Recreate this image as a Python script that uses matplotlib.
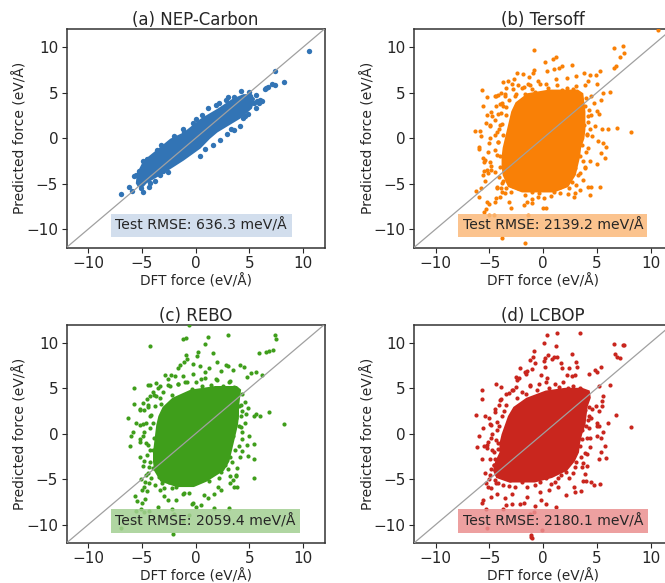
#!/usr/bin/env python3

import matplotlib
matplotlib.use('Agg')
import matplotlib.pyplot as plt

titles = ['(a) NEP-Carbon', '(b) Tersoff', '(c) REBO', '(d) LCBOP']
rmse_labels = ['Test RMSE: 636.3 meV/Å', 'Test RMSE: 2139.2 meV/Å',
               'Test RMSE: 2059.4 meV/Å', 'Test RMSE: 2180.1 meV/Å']
ticks = [-10, -5, 0, 5, 10]

# the middle of each cloud is solid colour and single points cant be read there,
# so it is stored as an outline (y, left x, right x)
core_y_a = [-5.3, -4.9, -3.8, -2.4, -1.07, 0, 0.7, 2.2, 3.3, 4.4, 4.9]
core_l_a = [-5.4, -5.6, -5.5, -4.9, -3.5, -2.4, -1.15, 0.42, 2.0, 3.4, 4.4]
core_r_a = [-4.9, -4.6, -3.0, -1.15, 0.42, 1.3, 2.0, 4.1, 5.2, 5.5, 5.1]

core_y_b = [-5.9, -5.3, -4, -3, -2, -1, 0, 1, 2, 3, 4, 5, 5.4]
core_l_b = [-2.0, -3.3, -3.8, -3.9, -3.9, -3.8, -3.6, -3.4, -3.2, -3.0, -2.6, -1.5, 0.5]
core_r_b = [1.0, 2.3, 3.0, 3.2, 3.4, 3.5, 3.8, 3.9, 3.9, 3.9, 3.8, 3.7, 3.2]

core_y_c = [-5.8, -5.2, -4, -3, -2, -1, 0, 1, 2, 3, 4, 4.9, 5.3]
core_l_c = [-1.8, -3.3, -3.9, -4.0, -4.0, -3.9, -3.8, -3.7, -3.5, -3.1, -2.2, -0.5, 1.8]
core_r_c = [-0.2, 1.0, 2.6, 3.1, 3.3, 3.5, 3.7, 3.9, 4.0, 4.0, 4.1, 4.2, 3.8]

core_y_d = [-5.3, -4.8, -4, -3, -2, -1, 0, 1, 2, 3, 4, 4.8, 5.1]
core_l_d = [-3.2, -4.4, -4.7, -4.5, -4.1, -4.1, -3.9, -3.6, -3.3, -2.8, -1.6, 0.2, 2.0]
core_r_d = [-0.8, 0.8, 2.2, 2.9, 3.3, 3.4, 3.6, 3.9, 4.0, 4.1, 4.4, 4.3, 3.6]

# single points outside the solid part
pts_a = [(10.6,9.6),(7.4,7.4),(8.2,6.2),(7.4,5.9),(7.1,6.0),(6.7,5.6),(6.6,5.5),(6.5,5.4),(6.0,4.2),
         (5.6,4.7),(5.6,3.3),(4.9,2.7),(5.4,3.9),(5.7,4.1),(4.2,5.2),(5.0,5.1),(4.6,2.4),(4.4,2.2),
         (3.0,4.5),(3.6,4.5),(2.8,4.2),(2.2,3.9),(1.9,3.6),(1.2,3.3),(0.6,2.5),(0.0,2.1),(-0.2,1.7),
         (-1.2,1.0),(-1.1,0.7),(-2.0,0.3),(-3.2,-0.7),(-3.6,-1.3),(-4.5,-2.3),
         (-4.9,-2.5),(-5.5,-4.0),(-5.2,-3.9),(-5.3,-3.6),(-5.7,-4.1),(-6.2,-5.4),(-6.9,-6.1),(-5.9,-5.8),
         (-4.9,-5.9),(-4.3,-5.4),(-3.8,-4.7),(-3.3,-4.0),(-2.6,-3.7),(0.4,-2.0),
         (0.9,-1.2),(1.6,-0.7),(2.3,-0.2),(2.9,0.5),(3.6,0.9),(4.1,1.4),(3.3,1.0),(5.9,3.9),
         (6.2,4.1),(5.1,4.6),(4.9,3.6),(-3.0,-3.6),(-4.2,-4.9),(-5.1,-5.5),(-4.6,-3.2),(-4.0,-2.2)]

pts_b = [(-0.8,9.7),(0.9,8.7),(1.2,8.9),(0.2,8.4),(6.6,9.9),(7.4,10.1),(7.5,9.4),(7.2,8.9),(6.8,7.9),(6.6,7.7),
         (2.7,8.0),(1.8,7.9),(1.5,7.7),(1.0,7.6),(0.4,7.4),(-0.8,7.5),(-0.9,7.2),(-1.3,6.7),(-2.4,7.2),(-1.9,7.1),
         (-3.7,6.2),(-3.3,6.3),(-2.7,6.5),(-5.7,5.3),(-5.2,4.5),(-4.4,4.6),(-3.9,5.0),(-3.4,5.5),(-2.8,5.4),(-2.3,5.8),
         (-1.8,5.6),(-1.2,5.9),(-0.5,6.3),(0.3,6.0),(1.2,6.5),(2.2,6.6),(3.1,6.8),(3.8,7.2),(4.4,7.0),(5.3,7.4),
         (4.9,7.0),(4.2,6.3),(3.9,5.8),(5.0,6.0),(5.6,5.0),(6.2,5.1),(5.4,4.2),(4.5,4.6),(4.7,3.9),(5.0,3.0),
         (4.5,2.5),(4.2,1.8),(5.2,2.7),(4.8,1.4),(5.5,1.0),(6.0,1.0),(6.9,1.1),(8.2,0.7),(4.1,0.5),(4.6,0.2),
         (5.1,-0.3),(5.6,-0.5),(5.9,-1.0),(5.4,-1.6),(5.8,-2.2),(5.0,-2.8),(4.4,-2.5),(4.0,-1.5),(3.9,-3.2),(3.4,-3.8),
         (3.7,-4.6),(4.2,-5.3),(4.5,-5.4),(3.4,-5.7),(3.0,-6.0),(2.9,-6.4),(4.4,-6.2),(5.3,-5.4),(2.3,-6.1),(1.6,-6.0),
         (0.7,-6.3),(0.1,-6.6),(-0.5,-6.5),(-1.0,-6.7),(-1.5,-7.0),(-1.8,-7.3),(-1.0,-7.1),(0.0,-7.7),(0.3,-7.7),(-3.0,-7.7),
         (-3.2,-7.0),(-4.0,-6.5),(-4.5,-7.0),(-5.0,-7.2),(-5.2,-7.0),(-5.3,-7.8),(-5.5,-8.1),(-5.0,-8.4),(-4.6,-8.4),(-1.4,-8.4),
         (-3.8,-11.0),(-1.7,-11.5),(-6.2,-5.8),(-6.0,-6.5),(-5.8,-5.5),(-5.4,-4.7),(-5.6,-4.0),(-5.5,-3.6),(-5.1,-3.8),(-4.8,-3.5),
         (-4.9,-2.6),(-5.5,-2.6),(-5.6,-2.2),(-6.0,-1.2),(-6.0,-1.0),(-5.0,-0.5),(-6.3,0.8),(-5.9,0.8),(-5.8,0.3),(-5.3,1.7),
         (-4.9,1.4),(-5.2,2.6),(-4.7,2.4),(-5.6,3.5),(-4.4,3.5),(-4.8,2.9),(-3.8,3.9),(-3.5,4.6),(-4.2,4.7),(-4.5,0.4),
         (-4.3,-1.8),(-4.0,1.5),(-4.2,-0.4),(-3.9,2.8),(-3.7,-4.7),(-3.9,-5.5),(-4.3,-5.5),(-3.5,-6.0),(-4.4,-6.6),(10.7,11.9)]

fringe_b = [(-2.0,5.5),(-1.4,6.0),(-0.3,6.0),(0.5,5.5),(1.3,5.9),(2.2,5.5),(3.1,5.7),(-2.5,4.9),(-1.7,4.9),(-0.7,5.1),
            (-2.9,6.0),(-3.5,4.9),(-4.0,3.8),(-4.5,4.6),(-3.2,4.2),(-3.7,3.5),(-4.2,2.7),(-3.4,2.6),(-4.5,2.0),(-3.8,1.6),
            (-4.9,1.5),(-4.3,0.7),(-3.7,0.4),(-4.9,0.0),(-4.2,-0.4),(-5.1,-1.5),(-4.5,-1.3),(-4.0,-2.0),(-5.4,-2.4),(-4.8,-3.1),
            (-4.5,-3.7),(-5.2,-3.5),(-4.3,-5.3),(-3.8,-5.9),(-3.4,-5.5),(-3.0,-5.9),(-2.3,-5.5),(-1.7,-6.2),(-1.0,-5.9),(-0.4,-6.0),
            (0.2,-5.5),(1.0,-5.9),(1.6,-5.3),(2.4,-5.5),(2.7,-4.8),(3.1,-5.1),(3.3,-4.0),(3.0,-3.3),(3.9,-3.3),(3.4,-2.0),
            (4.2,-1.1),(3.6,-0.7),(4.1,0.4),(3.8,1.5),(4.2,2.4),(3.9,3.5),(-4.0,-3.2),(-4.1,-4.3),(-3.8,-4.9),(-2.8,-5.2),
            (-4.1,1.0),(-3.4,3.4),(-2.6,4.6),(-1.0,5.4),(1.8,5.3),(2.8,5.4),(4.0,4.4),(4.3,3.1),(4.4,1.0),(3.7,-2.5)]

pts_c = [(-0.6,11.9),(-1.2,10.4),(-0.9,10.5),(1.2,10.6),(3.0,10.8),(0.9,9.9),(7.4,10.8),(7.5,10.4),(-4.2,9.6),(7.2,9.2),
         (6.8,9.1),(6.6,9.0),(5.9,8.9),(0.2,9.0),(1.6,8.9),(2.0,7.9),(-0.9,8.7),(-0.8,8.2),(0.1,8.5),(-0.2,7.7),
         (-1.1,7.9),(-1.4,7.6),(-1.6,7.2),(0.4,7.4),(1.3,7.2),(2.8,7.6),(3.0,7.4),(4.1,7.6),(4.5,7.3),(3.5,7.0),
         (2.4,6.9),(5.6,6.8),(5.2,6.7),(6.2,6.5),(4.8,6.2),(-2.8,6.5),(-2.3,6.5),(-2.6,6.0),(-1.9,6.3),(-1.2,6.3),
         (-0.2,6.6),(0.9,6.8),(-5.7,5.0),(-4.4,5.3),(-4.2,5.4),(-3.3,5.2),(-3.7,5.6),(-2.6,5.4),(-1.6,5.5),(-1.0,5.7),
         (0.5,6.0),(1.9,6.0),(3.2,5.8),(-4.9,3.4),(-4.5,3.8),(-4.2,4.2),(-4.0,4.6),(-3.7,4.2),(-5.7,3.3),(-5.2,2.7),
         (-4.8,2.6),(-4.4,2.9),(-6.3,1.7),(-5.5,1.2),(-5.2,1.0),(-4.6,1.2),(-4.2,1.9),(-4.8,0.2),(-5.8,0.2),(-6.0,-0.2),
         (-6.1,-1.3),(-5.2,-0.6),(-4.6,-1.0),(-4.2,-1.8),(-5.2,-2.6),(-4.8,-3.0),(-4.5,-2.3),(-4.9,-3.5),(-4.3,-3.7),(-4.6,-4.5),
         (-5.1,-5.0),(-4.8,-5.8),(-4.3,-5.4),(-4.5,-6.3),(-5.0,-6.2),(-5.6,-6.8),(-5.4,-7.4),(-5.0,-7.6),(-4.7,-7.2),(-5.1,-8.3),
         (-4.8,-8.6),(-4.3,-8.5),(-3.5,-8.1),(-2.9,-6.8),(-2.6,-7.3),(-2.2,-8.3),(-1.8,-7.3),(-1.2,-6.6),(-0.6,-6.5),(-0.3,-7.7),
         (0.0,-8.0),(0.5,-7.8),(1.2,-7.1),(0.8,-6.7),(1.7,-6.6),(2.4,-6.2),(3.2,-5.4),(3.6,-5.8),(3.9,-5.9),(2.1,-5.9),
         (3.2,-4.6),(3.8,-4.6),(3.9,-3.8),(4.1,-2.6),(4.3,-1.9),(4.9,-2.4),(5.4,-2.8),(5.4,-4.9),(4.8,-1.2),(5.4,-1.1),
         (4.3,-0.6),(4.2,0.7),(4.6,1.2),(5.4,2.0),(4.9,2.8),(4.7,2.2),(4.2,3.2),(4.6,3.5),(5.6,2.2),(6.0,2.0),
         (6.8,2.4),(8.2,1.1),(5.0,-0.2),(4.3,4.4),(-6.9,-10.4),(-5.5,-8.5),(-2.1,-11.0),(-1.2,-9.6),(-0.6,-8.9),(-2.0,-8.8),
         (1.7,-8.2),(3.1,-8.2),(-5.3,-9.5),(-2.7,-9.2)]

fringe_c = [(-3.0,4.6),(-2.4,5.2),(-1.6,5.5),(-0.8,5.7),(0.0,5.7),(0.9,6.1),(2.0,5.9),(3.1,5.7),(-3.5,5.0),(-3.9,4.3),
            (-3.3,3.9),(-4.4,3.2),(-3.8,3.0),(-5.2,2.6),(-4.1,2.1),(-4.9,1.1),(-4.2,0.6),(-4.9,-0.3),(-4.4,-1.2),(-3.9,-0.5),
            (-5.2,-0.9),(-4.2,-3.1),(-3.8,-2.5),(-4.4,-4.3),(-4.7,-5.3),(-4.1,-4.9),(-3.8,-5.6),(-3.1,-5.4),(-2.5,-5.3),(-1.8,-5.8),
            (-1.3,-5.4),(-0.5,-5.3),(0.1,-4.9),(0.9,-4.5),(1.7,-4.2),(2.4,-4.2),(2.7,-3.4),(3.5,-5.1),(3.8,-4.5),(3.2,-2.5),
            (4.0,-1.4),(3.5,-0.3),(4.0,0.8),(3.8,1.7),(4.0,3.0),(3.7,4.1),(-1.1,-6.5),(-0.2,-7.6),(-2.2,-6.0),(-3.3,-6.2),
            (-0.3,4.9),(0.6,5.2),(1.4,5.3),(2.6,5.2),(3.6,5.1),(-2.2,4.3),(-3.2,3.3),(-4.0,1.2),(-4.0,-1.8),(-4.0,-3.8),
            (1.3,-5.2),(2.2,-4.9),(3.0,-3.9),(3.4,-3.1),(3.7,-1.8),(4.3,0.2),(4.2,1.9),(4.3,2.5),(-3.4,-4.8),(-2.9,-6.0)]

pts_d = [(0.4,10.9),(1.3,11.1),(3.4,11.1),(0.1,10.0),(6.6,9.9),(7.4,9.8),(7.5,9.7),(1.2,9.6),(-0.8,9.1),(2.7,8.8),
         (6.7,8.8),(6.9,8.4),(7.2,8.3),(0.5,8.7),(0.2,8.3),(0.8,8.2),(1.0,8.4),(1.3,8.4),(-0.9,8.4),(-1.2,8.1),
         (0.1,8.0),(3.1,7.9),(-0.7,7.8),(1.7,7.8),(1.8,7.2),(2.4,7.2),(3.2,7.3),(5.4,7.3),(0.2,7.3),(-2.1,7.2),
         (-1.7,6.8),(-1.0,7.1),(-1.5,6.9),(-2.5,6.2),(-2.2,6.1),(-2.4,5.9),(-1.6,6.6),(4.8,7.0),(5.0,6.8),(4.3,6.6),
         (2.2,6.4),(2.7,6.3),(3.0,6.4),(-0.2,6.4),(0.4,6.1),(-5.7,4.8),(-5.7,3.8),(-4.4,5.5),(-3.9,5.1),(-3.2,4.5),
         (-2.9,4.8),(-2.5,5.1),(-1.2,5.4),(6.2,5.4),(5.2,5.2),(5.6,4.2),(5.5,3.6),(4.9,3.0),(5.5,3.0),(5.2,2.5),
         (4.6,2.7),(4.3,2.0),(6.0,1.2),(4.5,1.7),(5.0,1.2),(5.0,0.9),(4.3,0.6),(6.8,2.1),(8.2,0.7),(5.2,0.8),
         (5.6,0.2),(5.4,-0.5),(5.0,-0.3),(4.4,-0.5),(5.8,-1.3),(5.4,-2.0),(5.9,-2.7),(5.2,-2.8),(4.4,-1.5),(4.1,-2.2),
         (3.7,-3.2),(4.1,-3.5),(3.9,-4.4),(4.0,-5.2),(4.7,-5.6),(5.3,-5.5),(4.5,-5.3),(3.7,-5.2),(3.0,-6.4),(3.5,-6.3),
         (2.9,-5.8),(2.1,-6.7),(1.4,-5.8),(0.6,-6.2),(-0.3,-6.4),(-1.5,-7.0),(-0.2,-7.3),(0.3,-7.7),(1.2,-8.0),(-1.8,-7.6),
         (-0.7,-7.9),(-2.1,-7.7),(-2.9,-7.7),(-2.9,-6.6),(-3.5,-7.1),(-3.7,-8.3),(-3.4,-7.8),(-4.3,-6.6),(-4.8,-7.0),(-5.6,-7.3),
         (-5.7,-7.6),(-5.3,-8.3),(-5.2,-10.4),(-1.1,-11.1),(-1.0,-11.4),(-1.1,-11.3),(-0.1,-10.6),(-1.2,-8.8),(-0.8,-8.6),(-6.2,2.1),
         (-5.4,2.0),(-5.0,1.7),(-4.8,1.0),(-5.6,0.6),(-6.0,-0.2),(-6.1,-1.5),(-5.1,-0.9),(-5.5,-1.4),(-5.2,-1.6),(-5.7,-2.8),
         (-4.7,-1.8),(-4.9,-2.8),(-4.6,-3.4),(-5.4,-4.3),(-5.3,-5.4),(-5.0,-5.0),(-5.1,-5.9),(-4.4,-5.4),(-4.7,0.0),(-4.5,2.7),
         (-4.1,3.2),(-3.9,3.8),(-4.4,-0.7),(-4.3,1.3)]

fringe_d = [(-3.4,4.4),(-2.8,4.8),(-2.0,4.6),(-1.2,5.2),(-0.4,5.5),(0.3,5.7),(1.1,5.5),(1.9,5.7),(2.8,5.2),(3.4,5.0),
            (-4.0,3.7),(-3.4,3.2),(-4.5,2.4),(-3.8,1.9),(-4.9,1.1),(-4.3,0.4),(-4.8,-0.5),(-4.2,-1.0),(-5.2,-1.2),(-4.6,-2.0),
            (-4.0,-2.5),(-4.6,-3.4),(-4.9,-4.5),(-4.2,-5.4),(-4.8,-6.0),(-3.7,-5.6),(-3.1,-5.1),(-2.6,-5.8),(-2.0,-5.3),(-1.5,-5.8),
            (-0.7,-5.6),(-0.3,-5.3),(0.3,-4.9),(1.1,-5.3),(1.7,-4.5),(2.4,-4.9),(2.8,-4.3),(3.6,-3.6),(3.1,-3.1),(3.9,-2.1),
            (3.4,-1.4),(4.1,-0.5),(3.6,0.4),(4.2,1.5),(3.9,2.6),(4.1,3.9),(3.8,4.6),(-2.4,3.9),(-1.6,4.4),(-0.6,4.8),
            (0.6,5.0),(1.5,5.1),(2.3,5.0),(-3.6,2.5),(-4.1,0.9),(-4.2,-1.7),(-4.5,-2.8),(-4.8,-3.9),(-3.4,-4.9),(-1.0,-5.0),
            (0.7,-5.5),(1.4,-4.9),(2.1,-4.2),(3.0,-3.6),(3.5,-2.5),(3.6,-0.6),(4.0,0.9),(4.3,2.9),(-4.5,-5.1),(-3.2,-5.7)]

cores = [(core_y_a, core_l_a, core_r_a), (core_y_b, core_l_b, core_r_b),
         (core_y_c, core_l_c, core_r_c), (core_y_d, core_l_d, core_r_d)]
points = [pts_a, pts_b + fringe_b, pts_c + fringe_c, pts_d + fringe_d]

colors = ['#3274b5', '#f98006', '#3f9e1b', '#c9261e']
box_colors = ['#cbd9ea', '#fbb97a', '#a3cf92', '#ea9090']
dot_sizes = [15, 9, 9, 9]

W = 665.0
H = 583.0
# left, top of every axes in pixels
corners = [(66.5, 29), (414, 29), (66.5, 324.5), (414, 324.5)]
ax_w = 258
ax_h = 218.5
box_right = [9.0, 9.67, 9.7, 9.77]

txt_col = '#262626'
matplotlib.rcParams.update({'font.size': 10})

fig = plt.figure(figsize=(W/100, H/100), dpi=100)
for i in range(4):
    left, top = corners[i]
    ax = fig.add_axes([left/W, 1-(top+ax_h)/H, ax_w/W, ax_h/H])

    cy, cl, cr = cores[i]
    ax.fill_betweenx(cy, cl, cr, color=colors[i], linewidth=0, zorder=2)
    xs = [p[0] for p in points[i]]
    ys = [p[1] for p in points[i]]
    ax.scatter(xs, ys, s=dot_sizes[i], color=colors[i], linewidths=0, zorder=3)

    ax.plot([-12, 12], [-12, 12], color='#a0a0a0', linewidth=0.9, zorder=4)
    ax.set_xlim(-12, 12)
    ax.set_ylim(-12, 12)
    ax.set_xticks(ticks)
    ax.set_yticks(ticks)
    ax.tick_params(labelsize=11, colors=txt_col, length=3.5, width=0.8, pad=2.5)
    ax.set_xlabel('DFT force (eV/Å)', fontsize=9.8, color=txt_col, labelpad=2)
    ax.set_ylabel('Predicted force (eV/Å)', fontsize=10, color=txt_col, labelpad=-1)
    ax.set_title(titles[i], fontsize=12, color=txt_col, pad=2.5)
    for s in ax.spines.values():
        s.set_linewidth(1.1)
        s.set_color('#333333')

    ax.axhspan(-10.85, -8.3, xmin=(-7.9+12)/24, xmax=(box_right[i]+12)/24,
               color=box_colors[i], alpha=0.85, linewidth=0, zorder=5)
    ax.text(-7.45, -9.6, rmse_labels[i], fontsize=10.1, color=txt_col, va='center', ha='left', zorder=6)

fig.savefig('out.png', dpi=100)
